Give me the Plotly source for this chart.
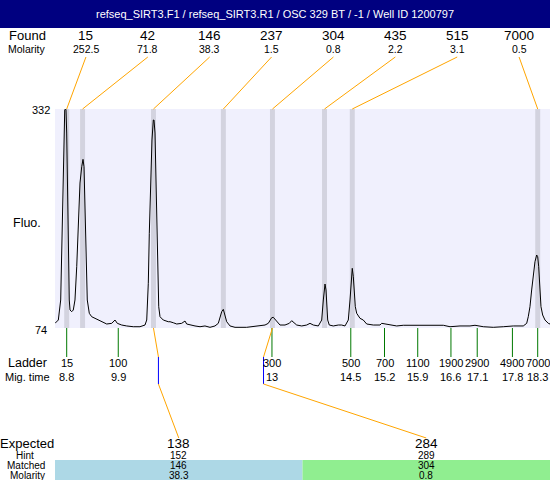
import plotly.graph_objects as go

# ---------------- data ----------------
title_text = "refseq_SIRT3.F1 / refseq_SIRT3.R1 / OSC 329 BT / -1 / Well ID 1200797"

found_size = [15, 42, 146, 237, 304, 435, 515, 7000]
found_molarity = [252.5, 71.8, 38.3, 1.5, 0.8, 2.2, 3.1, 0.5]
found_time = [8.80, 9.12, 10.55, 11.96, 12.95, 14.00, 14.56, 18.30]

ladder_size = [15, 100, 300, 500, 700, 1100, 1900, 2900, 4900, 7000]
ladder_mig_label = ["8.8", "9.9", "13", "14.5", "15.2", "15.9", "16.6", "17.1", "17.8", "18.3"]
ladder_time = [8.80, 9.84, 12.94, 14.53, 15.21, 15.88, 16.55, 17.08, 17.79, 18.30]

expected_size = [138, 284]
expected_hint = [152, 289]
matched_size = [146, 304]
matched_molarity = [38.3, 0.8]
expected_time = [10.65, 12.77]
matched_colors = ["#add8e6", "#90ee90"]

y_min_label, y_max_label = 74, 332

trace_time = [
    8.564, 8.631, 8.679, 8.705, 8.719, 8.731, 8.746, 8.760, 8.776, 8.786,
    8.800, 8.812, 8.826, 8.840, 8.852, 8.867, 8.901, 8.933, 8.967, 9.002,
    9.034, 9.068, 9.103, 9.129, 9.149, 9.169, 9.189, 9.215, 9.256, 9.304,
    9.371, 9.437, 9.506, 9.607, 9.708, 9.774, 9.821, 9.909, 10.010, 10.143,
    10.278, 10.379, 10.414, 10.446, 10.466, 10.494, 10.520, 10.547, 10.561, 10.581,
    10.601, 10.615, 10.635, 10.656, 10.682, 10.748, 10.849, 10.884, 10.950, 11.019,
    11.119, 11.186, 11.220, 11.287, 11.388, 11.489, 11.589, 11.690, 11.791, 11.858,
    11.892, 11.926, 11.959, 11.993, 12.027, 12.094, 12.195, 12.430, 12.564, 12.699,
    12.800, 12.866, 12.901, 12.935, 12.967, 13.001, 13.036, 13.102, 13.203, 13.290,
    13.338, 13.385, 13.439, 13.540, 13.641, 13.707, 13.774, 13.875, 13.943, 13.976,
    13.996, 14.010, 14.030, 14.044, 14.064, 14.096, 14.177, 14.278, 14.346, 14.413,
    14.480, 14.514, 14.534, 14.560, 14.581, 14.601, 14.621, 14.649, 14.716, 14.782,
    14.851, 14.984, 15.119, 15.153, 15.220, 15.321, 15.456, 15.589, 15.724, 15.891,
    16.061, 16.194, 16.396, 16.531, 16.733, 16.934, 17.035, 17.203, 17.404, 17.606,
    17.808, 18.009, 18.078, 18.110, 18.144, 18.178, 18.211, 18.245, 18.279, 18.300,
    18.320, 18.333, 18.346, 18.366, 18.400, 18.447, 18.514, 18.548,
]
trace_fluo = [
    79.5, 83.4, 107, 174.1, 224.8, 264, 303.7, 330.8, 332, 331,
    303.7, 244.8, 185.9, 134.4, 107, 95.2, 93.2, 95.2, 107, 146.2,
    205.1, 244.8, 264, 272.7, 264, 205.1, 146.2, 107, 91.3, 87.3,
    85.4, 83.4, 81.4, 78.7, 79.5, 83.4, 79.5, 77.5, 76.4, 75.5,
    75.5, 77.5, 83.4, 126.7, 185.6, 244.5, 295.5, 319, 319, 303.7,
    244.8, 185.9, 127, 99.1, 87.3, 83.4, 81.4, 81.4, 80.2, 78.7,
    79.5, 82.2, 78.7, 77.5, 76.4, 75.5, 76.4, 74.8, 76.4, 79.5,
    85.4, 93.2, 96, 89.3, 81.4, 76.4, 74.8, 74.8, 75.5, 76.4,
    77.5, 79.5, 83.4, 86.1, 86.6, 84.2, 81.4, 77.5, 77.5, 79.5,
    82.6, 80.2, 77.5, 76.4, 77.5, 79.5, 77.5, 76.4, 83.4, 107,
    124.7, 125.8, 118.8, 99.1, 83.4, 77.5, 76.4, 77.5, 77.5, 76.4,
    83.4, 107, 130.5, 144.3, 134.4, 114.9, 99.1, 91.3, 85.4, 83.4,
    78.7, 77.5, 77.5, 79.5, 78.7, 77.2, 76.4, 77.2, 77.2, 77.9,
    77.5, 77.9, 77.2, 75.5, 76.4, 76.4, 77.2, 75.5, 74.8, 75.5,
    76.4, 76.4, 79.5, 87.3, 99.1, 118.8, 138.4, 152.1, 160, 158,
    146.2, 130.5, 110.9, 99.1, 89.3, 83.4, 79.5, 78.7,
]

# ---------------- layout geometry (pixels) ----------------
W, H = 550, 480
T0, T1 = 8.564, 18.548
PL, PR, PT, PB = 55, 550, 109, 328
FONT = "Liberation Sans, Arial, sans-serif"


def xpx(t):
    return PL + (t - T0) / (T1 - T0) * (PR - PL)


def px(x):
    return x / W


def py(y):
    return 1 - y / H


shapes = []
annots = []


def text(x, y, s, size, color="black", anchor="center"):
    annots.append(dict(x=px(x), y=py(y), xref="paper", yref="paper", text=s,
                       showarrow=False, xanchor=anchor, yanchor="middle",
                       borderpad=0, font=dict(family=FONT, size=size, color=color)))


def line(x0, y0, x1, y1, color, width=1):
    shapes.append(dict(type="line", xref="paper", yref="paper",
                       x0=px(x0), y0=py(y0), x1=px(x1), y1=py(y1),
                       line=dict(color=color, width=width)))


# title bar
shapes.append(dict(type="rect", xref="paper", yref="paper", x0=0, x1=1,
                   y0=py(28), y1=1, fillcolor="#000080", line=dict(width=0)))
text(275, 14, title_text, 11, color="white")

# found row
text(27, 36, "Found", 13)
text(27, 49, "Molarity", 10.5)
slot = (PR - PL) / len(found_size)
for i, (s, m, t) in enumerate(zip(found_size, found_molarity, found_time)):
    cx = PL + slot * (i + 0.5)
    text(cx, 36, str(s), 13.5)
    text(cx, 49, str(m), 10.5)
    line(cx, 57, xpx(t), PT, "#ffa500")
    # gray peak band
    shapes.append(dict(type="rect", xref="x", yref="paper", x0=t - 0.05, x1=t + 0.05,
                       y0=py(PB), y1=py(PT), fillcolor="#d3d3df",
                       line=dict(width=0), layer="below"))

# y labels
text(41, PT + 1, str(y_max_label), 11)
text(41, PB + 2, str(y_min_label), 11)
text(27, 223, "Fluo.", 12.5)

# ladder
text(27, 363, "Ladder", 12.5)
text(27, 377, "Mig. time", 11)
for s, lab, t in zip(ladder_size, ladder_mig_label, ladder_time):
    shapes.append(dict(type="line", xref="x", yref="paper", x0=t, x1=t,
                       y0=py(PB), y1=py(357), line=dict(color="#007800", width=1)))
    text(xpx(t), 363, str(s), 11)
    text(xpx(t), 377, lab, 11)

# expected / matched table
text(27, 443, "Expected", 13)
text(25, 455, "Hint", 10)
text(26, 465, "Matched", 10)
text(27, 475, "Molarity", 10)
col = (PR - PL) / len(expected_size)
for i in range(len(expected_size)):
    x0 = PL + col * i
    cx = x0 + col / 2
    shapes.append(dict(type="rect", xref="paper", yref="paper", x0=px(x0), x1=px(x0 + col),
                       y0=0, y1=py(460), fillcolor=matched_colors[i], line=dict(width=0)))
    text(cx, 443, str(expected_size[i]), 13.5)
    text(cx, 455, str(expected_hint[i]), 10)
    text(cx, 465, str(matched_size[i]), 10)
    text(cx, 475, str(matched_molarity[i]), 10)
    pk = found_time[found_size.index(matched_size[i])]
    ex = xpx(expected_time[i])
    line(xpx(pk), PB, ex, 357, "#ffa500")
    line(ex, 357, ex, 384, "#0000ff")
    line(ex, 384, cx, 438, "#ffa500")

fig = go.Figure(go.Scatter(x=trace_time, y=trace_fluo, mode="lines",
                           line=dict(color="black", width=1), hoverinfo="skip"))

fig.update_layout(
    width=W, height=H, margin=dict(l=0, r=0, t=0, b=0, pad=0),
    paper_bgcolor="white", plot_bgcolor="#f0f0fd", showlegend=False,
    xaxis=dict(domain=[PL / W, PR / W], range=[T0, T1], showgrid=False, zeroline=False,
               showticklabels=False, ticks="", showline=False, fixedrange=True),
    yaxis=dict(domain=[py(PB), py(PT)], range=[y_min_label, y_max_label], showgrid=False,
               zeroline=False, showticklabels=False, ticks="", showline=False, fixedrange=True),
    shapes=shapes, annotations=annots,
)

fig.write_html("out.html", config={"displayModeBar": False},
               post_script="document.body.style.margin='0';document.body.style.overflow='hidden';")
